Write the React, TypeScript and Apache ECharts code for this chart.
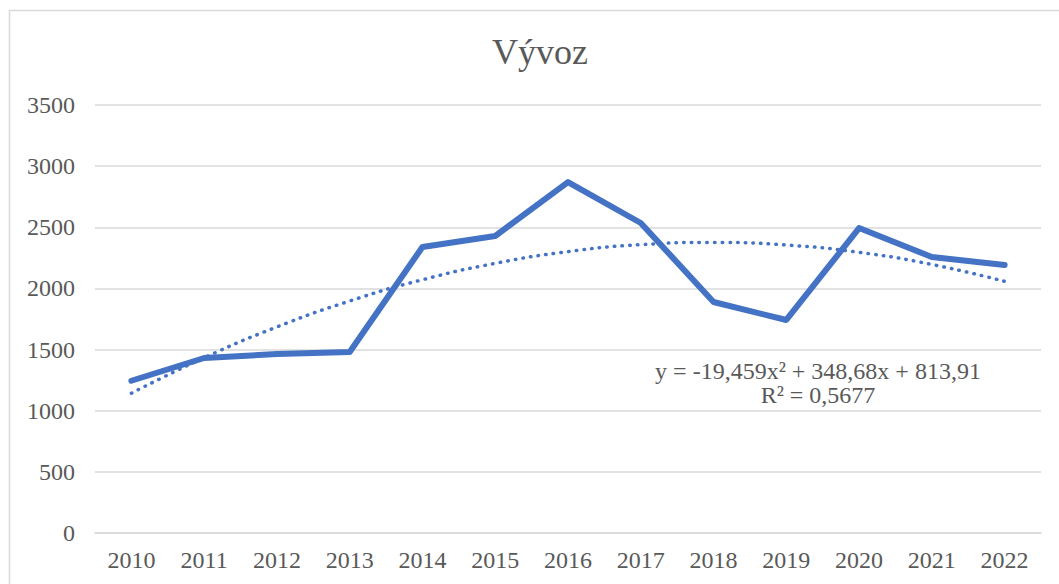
import React, { useEffect, useRef } from "react";
import * as echarts from "echarts";

const categories = ["2010", "2011", "2012", "2013", "2014", "2015", "2016", "2017", "2018", "2019", "2020", "2021", "2022"];
const exportValues = [1245, 1431, 1464, 1480, 2339, 2429, 2870, 2535, 1889, 1742, 2494, 2257, 2192];
const trendValues = [1143, 1433, 1685, 1897, 2071, 2205, 2301, 2358, 2376, 2355, 2295, 2196, 2058];
const titleText = "Vývoz";
const equationText = "y = -19,459x² + 348,68x + 813,91";
const r2Text = "R² = 0,5677";

const FONT = "'Liberation Serif', 'Times New Roman', serif";
const TEXT = "#595959";
const BLUE = "#4472C4";

export default function App() {
  const ref = useRef<HTMLDivElement>(null);
  useEffect(() => {
    if (!ref.current) return;
    const chart = echarts.init(ref.current, undefined, { renderer: "svg" });
    chart.setOption({
      animation: false,
      backgroundColor: "#ffffff",
      textStyle: { fontFamily: FONT },
      grid: { left: 95, right: 18, top: 105, bottom: 51, containLabel: false },
      xAxis: {
        type: "category",
        data: categories,
        boundaryGap: true,
        axisLine: { show: true, lineStyle: { color: "#d9d9d9", width: 1.5 } },
        axisTick: { show: false },
        axisLabel: { color: TEXT, fontSize: 24, fontFamily: FONT, margin: 15 },
      },
      yAxis: {
        type: "value",
        min: 0,
        max: 3500,
        interval: 500,
        axisLine: { show: false },
        axisTick: { show: false },
        splitLine: { lineStyle: { color: "#d9d9d9", width: 1.5 } },
        axisLabel: {
          color: TEXT,
          fontSize: 24,
          fontFamily: FONT,
          margin: 20,
          formatter: (v: number) => String(v),
        },
      },
      series: [
        {
          type: "line",
          data: exportValues,
          symbol: "none",
          lineStyle: { color: BLUE, width: 6, cap: "round", join: "round" },
          z: 2,
        },
        {
          type: "line",
          data: trendValues,
          symbol: "none",
          smooth: true,
          lineStyle: { color: BLUE, width: 3.5, type: [0.5, 7.2], cap: "round" },
          z: 3,
        },
      ],
      graphic: [
        {
          type: "rect",
          shape: { x: 9.5, y: 10.5, width: 1200, height: 700 },
          style: { fill: "none", stroke: "#d9d9d9", lineWidth: 1.5 },
          silent: true,
          z: -1,
        },
        {
          type: "text",
          x: 540,
          y: 52,
          style: { text: titleText, fill: TEXT, font: `36px ${FONT}`, textAlign: "center", textVerticalAlign: "middle" },
        },
        {
          type: "text",
          x: 818,
          y: 371,
          style: { text: equationText, fill: TEXT, font: `24px ${FONT}`, textAlign: "center", textVerticalAlign: "middle" },
        },
        {
          type: "text",
          x: 818,
          y: 395,
          style: { text: r2Text, fill: TEXT, font: `24px ${FONT}`, textAlign: "center", textVerticalAlign: "middle" },
        },
      ],
    });
    return () => chart.dispose();
  }, []);
  return (
    <div
      ref={ref}
      style={{ position: "fixed", left: 0, top: 0, width: 1059, height: 584 }}
    />
  );
}
